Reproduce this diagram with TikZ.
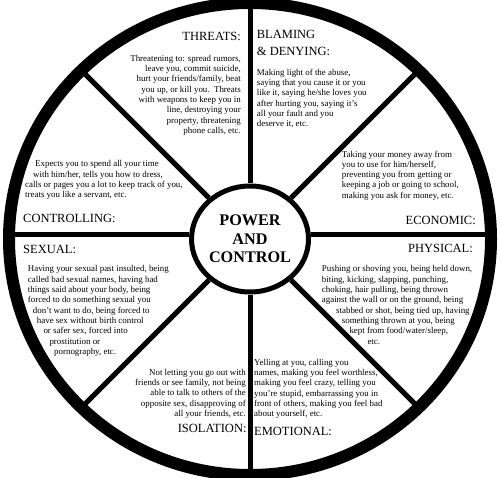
\documentclass[tikz,border=0pt]{standalone}
\usepackage{fontspec}
\setmainfont{Liberation Serif}
\usetikzlibrary{shapes.geometric}
\tikzset{
  rim/.style={ellipse, draw, line width=12pt, outer sep=0pt,
              minimum width=482pt, minimum height=472pt},
  hub/.style={ellipse, draw, line width=5pt, inner sep=0pt,
              minimum width=117pt, minimum height=106pt, align=center,
              font=\bfseries\fontsize{16.2}{18.3}\selectfont},
  spoke/.style={line width=5pt},
  heading/.style={inner sep=0pt, font=\fontsize{12.5}{16.7}\selectfont},
  blurb/.style={inner sep=0pt, font=\fontsize{8.9}{10.3}\selectfont},
}

\begin{document}
\begin{tikzpicture}[x=1pt, y=-1pt]
    \fill[white] (0,0) rectangle (500,478);
    \useasboundingbox (0,0) rectangle (500,478);

    \node[rim] (rim) at (250,239) {};
    \node[hub] (hub) at (250,239) {POWER\\AND\\CONTROL};

    \draw[spoke] (hub.90)--(rim.90);
    \draw[spoke] (hub.45)--(rim.45);
    \draw[spoke] ([yshift=4pt]hub.0)--([yshift=4pt]rim.0);
    \draw[spoke] (hub.315)--(rim.315);
    \draw[spoke] (hub.270)--(rim.270);
    \draw[spoke] (hub.225)--(rim.225);
    \draw[spoke] ([yshift=4pt]hub.180)--([yshift=4pt]rim.180);
    \draw[spoke] (hub.135)--(rim.135);

    % top half
    \node[heading, anchor=base east] (threatshead) at (241,40.7) {THREATS:};
    \node[blurb, anchor=north east, align=right] (threats) at (241,54.9)
        {Threatening to: spread rumors,\\ leave you, commit suicide,\\ hurt your friends/family, beat\\
         you up, or kill you.\ \ Threats\\ with weapons to keep you in\\ line, destroying your\\
         property, threatening\\ phone calls, etc.};

    \node[heading, anchor=north west, align=left] (blaminghead) at (256.7,30)
        {BLAMING\\ \& DENYING:};
    \node[blurb, anchor=north west, align=left] (blaming) at (256.7,68.9)
        {Making light of the abuse,\\ saying that you cause it or you\\ like it, saying he/she loves you\\
         after hurting you, saying it's\\ all your fault and you\\ deserve it, etc.};

    \node[blurb, anchor=north west, align=left] (controlling) at (25,160.6)
        {\hspace*{10pt}Expects you to spend all your time\\ \hspace*{8pt}with him/her, tells you how to dress,\\
         calls or pages you a lot to keep track of you,\\ treats you like a servant, etc.};
    \node[heading, anchor=base west] (controllinghead) at (23,222.7) {CONTROLLING:};

    \node[blurb, anchor=north west, align=left] (economic) at (341.7,150.6)
        {Taking your money away from\\ you to use for him/herself,\\ preventing you from getting or\\
         keeping a job or going to school,\\ making you ask for money, etc.};
    \node[heading, anchor=base east] (economichead) at (476,225) {ECONOMIC:};

    % bottom half
    \node[heading, anchor=base west] (sexualhead) at (23,254) {SEXUAL:};
    \node[blurb, anchor=north west, align=left] (sexual) at (27.7,265.6)
        {Having your sexual past insulted, being\\ called bad sexual names, having bad\\
         things said about your body, being\\ forced to do something sexual you\\
         \hspace*{5pt}don't want to do, being forced to\\ \hspace*{9pt}have sex without birth control\\
         \hspace*{15.6pt}or safer sex, forced into\\ \hspace*{21.6pt}prostitution or\\
         \hspace*{26.3pt}pornography, etc.};

    \node[heading, anchor=base east] (physicalhead) at (473,252.7) {PHYSICAL:};
    \node[blurb, anchor=north west, align=left] (physical) at (321.7,265.6)
        {Pushing or shoving you, being held down,\\ biting, kicking, slapping, punching,\\
         choking, hair pulling, being thrown\\ against the wall or on the ground, being\\
         \hspace*{14.3pt}stabbed or shot, being tied up, having\\ \hspace*{20pt}something thrown at you, being\\
         \hspace*{27.6pt}kept from food/water/sleep,\\ \hspace*{45.6pt}etc.};

    \node[blurb, anchor=north east, align=right] (isolation) at (246,368.9)
        {Not letting you go out with\\ friends or see family, not being\\ able to talk to others of the\\
         opposite sex, disapproving of\\ all your friends, etc.};
    \node[heading, anchor=base east] (isolationhead) at (246.7,432.3) {ISOLATION:};

    \node[blurb, anchor=north west, align=left] (emotional) at (254,358.9)
        {Yelling at you, calling you\\ names, making you feel worthless,\\ making you feel crazy, telling you\\
         you're stupid, embarrassing you in\\ front of others, making you feel bad\\ about yourself, etc.};
    \node[heading, anchor=base west] (emotionalhead) at (254,435) {EMOTIONAL:};
\end{tikzpicture}
\end{document}
